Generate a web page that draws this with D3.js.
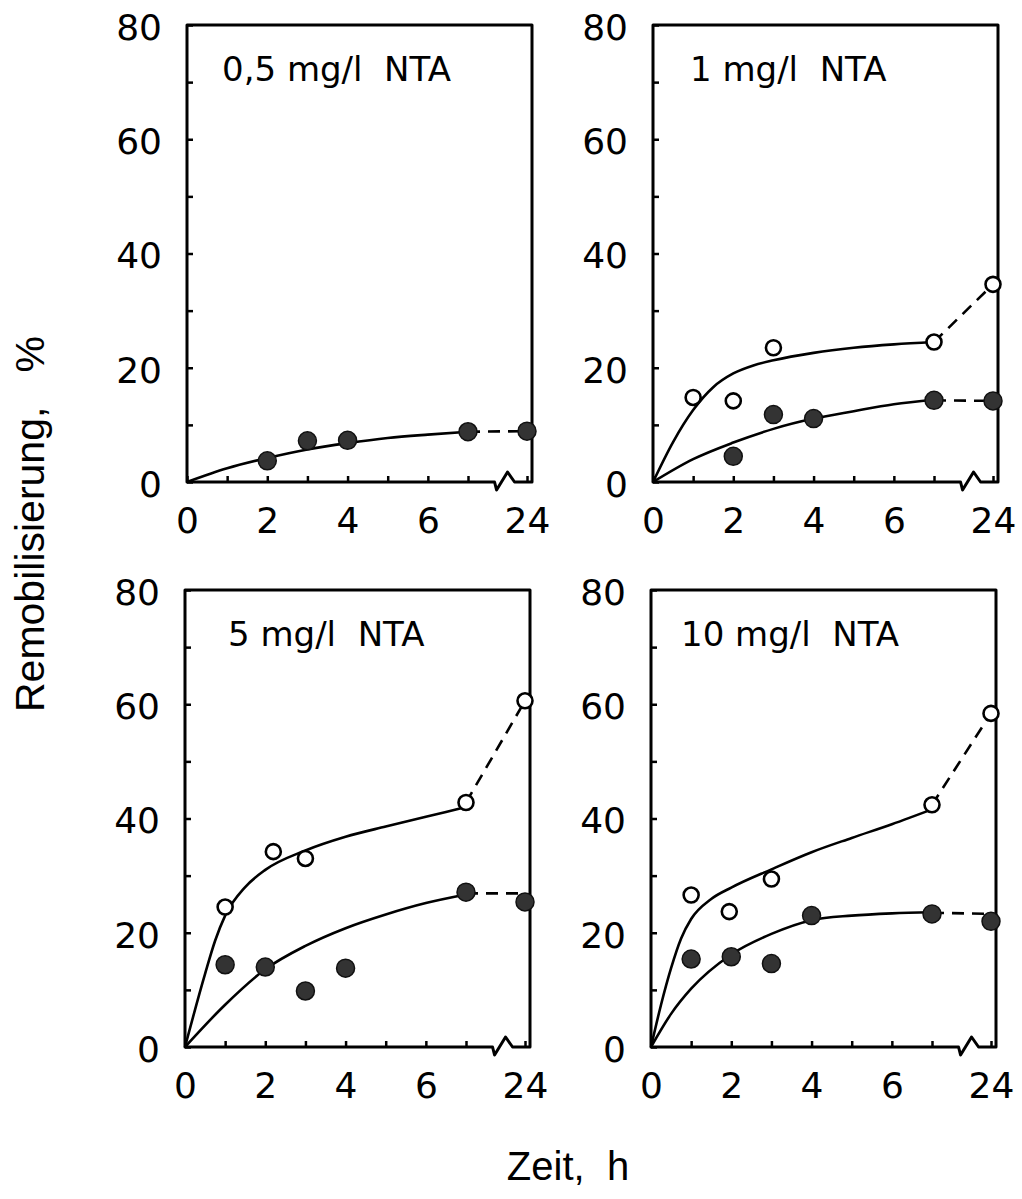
<!DOCTYPE html>
<html>
<head>
<meta charset="utf-8">
<script src="https://cdn.jsdelivr.net/npm/d3@7"></script>
<style>
body { margin: 0; background: #fff; }
</style>
</head>
<body>
<script>
// panel titles
var titles = ['0,5 mg/l  NTA', '1 mg/l  NTA', '5 mg/l  NTA', '10 mg/l  NTA'];

// axes
var xTicks = [0, 1, 2, 3, 4, 5, 6, 7, 24];
var xLabels = [0, 2, 4, 6, 24];
var yTicks = [0, 10, 20, 30, 40, 50, 60, 70, 80];
var yLabels = [0, 20, 40, 60, 80];

// measured points, [Zeit h, Remobilisierung %]
var openPts = [
    [],
    [[1, 14.8], [2, 14.2], [3, 23.5], [7, 24.5], [24, 34.6]],
    [[1, 24.5], [2.2, 34.2], [3, 33.0], [7, 42.8], [24, 60.6]],
    [[1, 26.6], [1.95, 23.7], [3, 29.4], [7, 42.4], [24, 58.4]]
];
var filledPts = [
    [[2, 3.7], [3, 7.2], [4, 7.3], [7, 8.8], [24, 8.9]],
    [[2, 4.5], [3, 11.8], [4, 11.1], [7, 14.3], [24, 14.2]],
    [[1, 14.4], [2, 14.0], [3, 9.8], [4, 13.8], [7, 27.1], [24, 25.4]],
    [[1, 15.4], [2, 15.8], [3, 14.6], [4, 23.0], [7, 23.3], [24, 22.0]]
];

// fitted curves (solid part)
var openCurve = [
    [],
    [[0, 0], [0.5, 7.0], [1, 12.6], [1.5, 16.6], [2, 19.0], [2.5, 20.4], [3, 21.3], [4, 22.6], [5, 23.5], [6, 24.1], [7, 24.5]],
    [[0, 0], [0.5, 12.8], [0.75, 18.6], [1, 23.0], [1.5, 28.0], [2, 31.0], [3, 34.4], [4, 36.8], [5, 38.6], [6, 40.3], [7, 42.0]],
    [[0, 0], [0.25, 7.4], [0.5, 13.8], [0.75, 19.0], [1, 22.4], [1.5, 25.9], [2, 27.9], [3, 31.1], [4, 34.1], [5, 36.6], [6, 39.0], [7, 41.6]]
];
var filledCurve = [
    [[0, 0], [1, 2.4], [2, 4.2], [3, 5.7], [4, 6.8], [5, 7.7], [6, 8.3], [7, 8.8]],
    [[0, 0], [1, 4.0], [2, 6.9], [3, 9.3], [4, 11.1], [5, 12.4], [6, 13.6], [7, 14.4]],
    [[0, 0], [1, 7.4], [2, 13.6], [3, 17.7], [4, 20.8], [5, 23.2], [6, 25.2], [7, 26.7]],
    [[0, 0], [0.5, 5.8], [1, 10.2], [2, 16.2], [3, 19.8], [4, 22.2], [5, 23.0], [6, 23.4], [7, 23.6]]
];

// dashed extension 7 h -> 24 h
var openDash = [
    [],
    [[7, 24.5], [24, 34.6]],
    [[7, 42.8], [24, 60.6]],
    [[7, 42.4], [24, 58.4]]
];
var filledDash = [
    [[7, 8.8], [24, 8.9]],
    [[7, 14.3], [24, 14.2]],
    [[7, 26.9], [24, 26.9]],
    [[7, 23.5], [24, 23.3]]
];

var W = 1022, H = 1199, pw = 345, ph = 457;
var origins = [[187, 25], [653, 25], [185, 590], [651, 590]];
var titleDx = [35, 37, 43, 30];

var svg = d3.select('body').append('svg').attr('width', W).attr('height', H);
svg.append('rect').attr('width', W).attr('height', H).attr('fill', '#fff');

var x = d3.scaleLinear().domain([0, 7, 24]).range([0, 281, 340]);
var y = d3.scaleLinear().domain([0, 80]).range([ph, 0]);

var line = d3.line()
    .x(function(d){ return x(d[0]); })
    .y(function(d){ return y(d[1]); })
    .curve(d3.curveMonotoneX);

var straight = d3.line()
    .x(function(d){ return x(d[0]); })
    .y(function(d){ return y(d[1]); });

var tickFont = '"DejaVu Sans", sans-serif';

var drawPanel = function(i){
    var g = svg.append('g').attr('transform', 'translate(' + origins[i][0] + ',' + origins[i][1] + ')');

    // y axis: inner ticks every 10, labels every 20
    var ya = g.append('g').call(d3.axisLeft(y)
        .tickValues(yTicks)
        .tickSizeInner(-6)
        .tickSizeOuter(0)
        .tickPadding(25)
        .tickFormat(function(d){ return yLabels.indexOf(d) >= 0 ? d : ''; }));
    ya.select('.domain').remove();
    ya.selectAll('line').attr('stroke', '#000').attr('stroke-width', 2.5);
    ya.selectAll('text').attr('font-family', tickFont).attr('font-size', 36).attr('fill', '#000').attr('dy', '0.40em');

    // x axis
    var xa = g.append('g').attr('transform', 'translate(0,' + ph + ')').call(d3.axisBottom(x)
        .tickValues(xTicks)
        .tickSizeInner(-6)
        .tickSizeOuter(0)
        .tickPadding(25)
        .tickFormat(function(d){ return xLabels.indexOf(d) >= 0 ? d : ''; }));
    xa.select('.domain').remove();
    xa.selectAll('line').attr('stroke', '#000').attr('stroke-width', 2.5);
    xa.selectAll('text').attr('font-family', tickFont).attr('font-size', 36).attr('fill', '#000');

    // frame with axis break
    var b0 = x(7) + (x(24) - x(7)) * 0.45;
    g.append('path')
        .attr('d', 'M0,0H' + pw + 'V' + ph + 'H' + (b0 + 20) + 'l-7,-10l-11,18l-2,-8H0Z')
        .attr('fill', 'none').attr('stroke', '#000').attr('stroke-width', 3)
        .attr('stroke-linejoin', 'round');

    // curves
    [openCurve[i], filledCurve[i]].forEach(function(c){
        if (!c.length) return;
        g.append('path').attr('d', line(c)).attr('fill', 'none').attr('stroke', '#000').attr('stroke-width', 2.6);
    });
    [openDash[i], filledDash[i]].forEach(function(c){
        if (!c.length) return;
        g.append('path').attr('d', straight(c)).attr('fill', 'none').attr('stroke', '#000')
            .attr('stroke-width', 2.6).attr('stroke-dasharray', '12,8');
    });

    // points
    g.selectAll('.filled').data(filledPts[i]).enter().append('circle')
        .attr('cx', function(d){ return x(d[0]); })
        .attr('cy', function(d){ return y(d[1]); })
        .attr('r', 9)
        .attr('fill', '#333').attr('stroke', '#111').attr('stroke-width', 1.5);
    g.selectAll('.open').data(openPts[i]).enter().append('circle')
        .attr('cx', function(d){ return x(d[0]); })
        .attr('cy', function(d){ return y(d[1]); })
        .attr('r', 7.5)
        .attr('fill', '#fff').attr('stroke', '#000').attr('stroke-width', 2.6);

    // title
    g.append('text').attr('x', titleDx[i]).attr('y', 56)
        .attr('font-family', tickFont).attr('font-size', 34).attr('fill', '#000')
        .style('white-space', 'pre')
        .text(titles[i]);
};

for (var i = 0; i < 4; i++) drawPanel(i);

svg.append('text')
    .attr('transform', 'translate(44,524) rotate(-90)')
    .attr('text-anchor', 'middle')
    .attr('font-family', '"Liberation Sans", Arial, sans-serif')
    .attr('font-size', 41).attr('fill', '#000')
    .style('white-space', 'pre')
    .text('Remobilisierung,   %');

svg.append('text')
    .attr('x', 568).attr('y', 1180)
    .attr('text-anchor', 'middle')
    .attr('font-family', '"Liberation Sans", Arial, sans-serif')
    .attr('font-size', 40).attr('fill', '#000')
    .style('white-space', 'pre')
    .text('Zeit,  h');
</script>
</body>
</html>
